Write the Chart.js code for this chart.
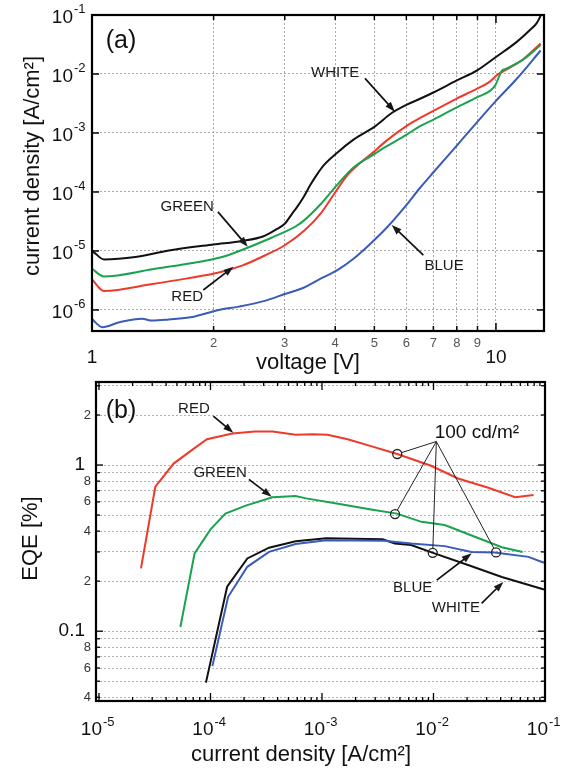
<!DOCTYPE html>
<html>
<head>
<meta charset="utf-8">
<script src="https://cdn.jsdelivr.net/npm/chart.js@4.4.1/dist/chart.umd.min.js"></script>
<style>
  html, body { margin: 0; padding: 0; background: #fff; }
  canvas { display: block; }
</style>
</head>
<body>
<canvas id="ivChart" width="567" height="376"></canvas>
<canvas id="eqeChart" width="567" height="392"></canvas>
<script>
// (a) current density vs voltage
const whiteV = [1.0, 1.02, 1.07, 1.28, 1.55, 2.0, 2.36, 2.66, 2.85, 3.0, 3.13, 3.22, 3.35, 3.47, 3.6, 3.74, 4.04, 4.44, 5.03, 5.53, 6.0, 6.49, 7.02, 7.98, 8.96, 10.0, 11.26, 12.12, 12.6, 12.9];
const whiteJ = [1.0e-5, 9.0e-6, 7.2e-6, 7.9e-6, 1.02e-5, 1.29e-5, 1.48e-5, 1.78e-5, 2.3e-5, 2.9e-5, 4.3e-5, 5.6e-5, 8.5e-5, 1.31e-4, 1.95e-4, 2.8e-4, 4.6e-4, 7.7e-4, 1.31e-3, 2.2e-3, 3.0e-3, 3.8e-3, 4.9e-3, 7.7e-3, 1.14e-2, 1.94e-2, 3.5e-2, 5.5e-2, 7.2e-2, 9.6e-2];
const greenV = [1.0, 1.07, 1.41, 1.71, 2.1, 2.4, 2.71, 3.0, 3.19, 3.35, 3.68, 4.04, 4.44, 4.89, 5.37, 6.0, 6.49, 7.02, 7.98, 8.96, 9.94, 10.33, 10.6, 11.7, 12.9];
const greenJ = [5.0e-6, 3.7e-6, 4.9e-6, 6.0e-6, 7.9e-6, 1.1e-5, 1.55e-5, 2.1e-5, 2.6e-5, 3.3e-5, 6.2e-5, 1.31e-4, 2.6e-4, 4.0e-4, 6.0e-4, 9.3e-4, 1.31e-3, 1.7e-3, 2.7e-3, 4.0e-3, 6.3e-3, 1.12e-2, 1.23e-2, 1.77e-2, 3.1e-2];
const redV = [1.0, 1.07, 1.41, 1.71, 2.06, 2.36, 2.69, 3.0, 3.35, 3.68, 3.96, 4.28, 4.61, 4.89, 5.37, 6.0, 6.49, 7.02, 7.98, 8.96, 9.6, 10.1, 10.6, 11.7, 12.9];
const redJ = [3.3e-6, 2.1e-6, 2.75e-6, 3.4e-6, 4.3e-6, 5.7e-6, 8.5e-6, 1.25e-5, 2.2e-5, 4.3e-5, 8.9e-5, 1.9e-4, 3.1e-4, 4.3e-4, 7.5e-4, 1.31e-3, 1.8e-3, 2.4e-3, 3.8e-3, 5.6e-3, 7.2e-3, 9.8e-3, 1.18e-2, 1.8e-2, 3.3e-2];
const blueV = [1.0, 1.06, 1.17, 1.33, 1.41, 1.55, 1.77, 2.06, 2.31, 2.69, 3.0, 3.35, 3.68, 4.04, 4.44, 4.89, 5.37, 6.0, 6.49, 7.02, 7.98, 8.96, 10.0, 11.26, 12.9];
const blueJ = [7.0e-7, 5.1e-7, 6.2e-7, 7.1e-7, 6.6e-7, 6.9e-7, 7.6e-7, 1.0e-6, 1.14e-6, 1.44e-6, 1.86e-6, 2.4e-6, 3.4e-6, 4.7e-6, 7.4e-6, 1.33e-5, 2.5e-5, 6.0e-5, 1.18e-4, 2.2e-4, 6.0e-4, 1.5e-3, 3.5e-3, 8.3e-3, 2.5e-2];

const xTicksA = [1, 2, 3, 4, 5, 6, 7, 8, 9, 10];
const yTicksA = [1e-6, 1e-5, 1e-4, 1e-3, 1e-2, 1e-1];

// (b) EQE vs current density
const redEqJ = [2.38e-5, 3.2e-5, 4.67e-5, 6.8e-5, 9.3e-5, 1.57e-4, 2.5e-4, 3.6e-4, 5.8e-4, 8.3e-4, 1.12e-3, 1.7e-3, 2.75e-3, 4.8e-3, 9.5e-3, 1.66e-2, 3.1e-2, 5.4e-2, 7.9e-2];
const redEqe = [0.239, 0.74, 1.02, 1.23, 1.43, 1.55, 1.59, 1.59, 1.52, 1.53, 1.52, 1.43, 1.30, 1.16, 0.99, 0.83, 0.73, 0.64, 0.66];
const greenEqJ = [5.37e-5, 7.2e-5, 1.0e-4, 1.36e-4, 2.07e-4, 3.6e-4, 5.8e-4, 7.2e-4, 1.48e-3, 2.75e-3, 4.7e-3, 7.8e-3, 1.26e-2, 2.35e-2, 4.1e-2, 6.3e-2];
const greenEqe = [0.106, 0.294, 0.41, 0.51, 0.57, 0.64, 0.65, 0.63, 0.58, 0.54, 0.51, 0.455, 0.435, 0.37, 0.32, 0.30];
const whiteEqJ = [9.1e-5, 1.41e-4, 2.14e-4, 3.35e-4, 5.8e-4, 1.09e-3, 3.5e-3, 4.5e-3, 6.3e-3, 1.02e-2, 2.04e-2, 4.1e-2, 9.8e-2];
const whiteEqe = [0.049, 0.185, 0.274, 0.318, 0.348, 0.362, 0.357, 0.337, 0.33, 0.294, 0.25, 0.212, 0.178];
const blueEqJ = [1.04e-4, 1.44e-4, 2.14e-4, 3.35e-4, 5.8e-4, 1.09e-3, 3.6e-3, 6.3e-3, 1.26e-2, 2.19e-2, 3.54e-2, 7.1e-2, 9.8e-2];
const blueEqe = [0.0616, 0.161, 0.244, 0.30, 0.335, 0.352, 0.35, 0.337, 0.325, 0.30, 0.298, 0.28, 0.258];
// 100 cd/m2 points (red, green, white, blue)
const markJ = [4.73e-3, 4.52e-3, 9.84e-3, 3.64e-2];
const markEqe = [1.165, 0.507, 0.296, 0.298];

const xDecadesB = [1e-5, 1e-4, 1e-3, 1e-2, 1e-1];
const yTicksB = [0.04, 0.05, 0.06, 0.07, 0.08, 0.09, 0.1, 0.2, 0.3, 0.4, 0.5, 0.6, 0.7, 0.8, 0.9, 1, 2, 3];
const yLabelsB = { 0.04: '4', 0.06: '6', 0.08: '8', 0.1: '0.1', 0.2: '2', 0.4: '4', 0.6: '6', 0.8: '8', 1: '1', 2: '2' };

const FONT = '"Liberation Sans", Arial, sans-serif';
const RED = '#ee3a2a', GREEN = '#1aa34e', BLUE = '#3a5cb8', BLACK = '#111';

// annotation labels with arrows, in data units
const notesA = [
    { text: 'WHITE', tx: 4.0, ty: 1.04e-2, x1: 4.74, y1: 8.45e-3, x2: 5.62, y2: 2.3e-3 },
    { text: 'GREEN', tx: 1.72, ty: 5.6e-5, x1: 2.05, y1: 4.6e-5, x2: 2.43, y2: 1.18e-5 },
    { text: 'RED', tx: 1.72, ty: 1.66e-6, x1: 1.886, y1: 2.18e-6, x2: 2.24, y2: 5.4e-6 },
    { text: 'BLUE', tx: 7.44, ty: 5.6e-6, x1: 6.61, y1: 8.5e-6, x2: 5.52, y2: 2.76e-5 }
];
const notesB = [
    { text: 'RED', tx: 7.1e-5, ty: 2.18, x1: 1.06e-4, y1: 1.97, x2: 1.6e-4, y2: 1.565 },
    { text: 'GREEN', tx: 1.22e-4, ty: 0.895, x1: 2.21e-4, y1: 0.82, x2: 3.54e-4, y2: 0.644 },
    { text: 'BLUE', tx: 6.5e-3, ty: 0.1816, x1: 1.07e-2, y1: 0.203, x2: 2.2e-2, y2: 0.294 },
    { text: 'WHITE', tx: 1.59e-2, ty: 0.1376, x1: 2.7e-2, y1: 0.147, x2: 4.23e-2, y2: 0.198 }
];
const lumNote = { text: '100 cd/m\u00b2', tx: 2.45e-2, ty: 1.56, ax: 1.06e-2, ay: 1.385 };

function pts(xs, ys) {
    return xs.map((v, i) => ({ x: v, y: ys[i] }));
}

function curve(label, xs, ys, color, smooth) {
    return {
        label: label,
        data: pts(xs, ys),
        borderColor: color,
        borderWidth: 2,
        pointRadius: 0,
        tension: 0,
        cubicInterpolationMode: smooth ? 'monotone' : 'default',
        fill: false,
        order: 1
    };
}

function text(ctx, str, x, y, size, align, color) {
    ctx.font = size + 'px ' + FONT;
    ctx.textAlign = align || 'center';
    ctx.textBaseline = 'middle';
    ctx.fillStyle = color || '#111';
    ctx.fillText(str, x, y);
}

function line(ctx, x1, y1, x2, y2) {
    ctx.beginPath();
    ctx.moveTo(x1, y1);
    ctx.lineTo(x2, y2);
    ctx.stroke();
}

function arrow(ctx, x1, y1, x2, y2) {
    const ang = Math.atan2(y2 - y1, x2 - x1);
    const L = 10, W = 3.5;
    const c = Math.cos(ang), s = Math.sin(ang);
    ctx.lineWidth = 1.7;
    line(ctx, x1, y1, x2 - L * 0.8 * c, y2 - L * 0.8 * s);
    ctx.beginPath();
    ctx.moveTo(x2, y2);
    ctx.lineTo(x2 - L * c + W * s, y2 - L * s - W * c);
    ctx.lineTo(x2 - L * c - W * s, y2 - L * s + W * c);
    ctx.closePath();
    ctx.fill();
}

// "10" with a raised exponent, "10" ends at x
function power(ctx, exp, x, y, size, expSize, dy) {
    text(ctx, '10', x, y, size, 'right');
    text(ctx, String(exp), x + 1, y - dy, expSize, 'left');
}

function drawNotes(ctx, notes, sx, sy) {
    ctx.strokeStyle = '#111';
    ctx.fillStyle = '#111';
    notes.forEach(n => {
        arrow(ctx, sx.getPixelForValue(n.x1), sy.getPixelForValue(n.y1),
            sx.getPixelForValue(n.x2), sy.getPixelForValue(n.y2));
        text(ctx, n.text, sx.getPixelForValue(n.tx), sy.getPixelForValue(n.ty), 15, 'center', '#1a1a1a');
    });
}

function logScale(min, max, ticks, gridColor) {
    return {
        type: 'logarithmic',
        min: min,
        max: max,
        afterBuildTicks: s => { s.ticks = ticks.map(v => ({ value: v })); },
        afterFit: s => { if (s.isHorizontal()) s.height = 0; else s.width = 0; },
        ticks: { display: false },
        grid: { display: !!gridColor, color: gridColor || 'transparent', lineWidth: 1, drawTicks: false },
        border: { display: false, dash: [2, 2] }
    };
}

const decoA = {
    id: 'decoA',
    afterDraw(chart) {
        const { ctx, chartArea: a, scales: { x, y } } = chart;
        ctx.save();
        ctx.strokeStyle = '#000';
        ctx.lineWidth = 1.5;
        xTicksA.forEach(v => {
            if (v === 1) return;
            const px = x.getPixelForValue(v);
            const len = v === 10 ? 8 : 5;
            line(ctx, px, a.bottom, px, a.bottom - len);
            line(ctx, px, a.top, px, a.top + len);
        });
        yTicksA.forEach(v => {
            const py = y.getPixelForValue(v);
            line(ctx, a.left, py, a.left + 7, py);
            line(ctx, a.right, py, a.right - 7, py);
        });
        ctx.lineWidth = 2.2;
        ctx.strokeRect(a.left, a.top, a.right - a.left, a.bottom - a.top);

        // tick labels
        xTicksA.forEach(v => {
            const px = x.getPixelForValue(v);
            if (v === 1 || v === 10) text(ctx, String(v), px, a.bottom + 27, 19, 'center', '#111');
            else text(ctx, String(v), px, a.bottom + 12, 13, 'center', '#555');
        });
        yTicksA.forEach(v => {
            const py = y.getPixelForValue(v);
            power(ctx, Math.round(Math.log10(v)), a.left - 19, py + 3, 19, 13, 9);
        });

        // axis titles
        text(ctx, 'voltage [V]', a.left + 216, a.bottom + 32, 22, 'center', '#111');
        ctx.save();
        ctx.translate(33, (a.top + a.bottom) / 2 - 7);
        ctx.rotate(-Math.PI / 2);
        text(ctx, 'current density [A/cm\u00b2]', 0, 0, 22, 'center', '#111');
        ctx.restore();

        text(ctx, '(a)', a.left + 29, a.top + 26, 25, 'center', '#111');
        drawNotes(ctx, notesA, x, y);
        ctx.restore();
    }
};

const decoB = {
    id: 'decoB',
    afterDraw(chart) {
        const { ctx, chartArea: a, scales: { x, y } } = chart;
        ctx.save();
        ctx.strokeStyle = '#000';
        ctx.lineWidth = 1.3;
        xDecadesB.forEach((d, i) => {
            for (let m = 1; m <= 9; m++) {
                const v = d * m;
                if (v < x.min || v > x.max || (m > 1 && i === xDecadesB.length - 1)) continue;
                const px = x.getPixelForValue(v);
                const len = m === 1 ? 8 : 4;
                line(ctx, px, a.bottom, px, a.bottom - len);
                line(ctx, px, a.top, px, a.top + len);
            }
        });
        yTicksB.forEach(v => {
            const py = y.getPixelForValue(v);
            const len = (v === 0.1 || v === 1) ? 7 : 4;
            line(ctx, a.left, py, a.left + len, py);
            line(ctx, a.right, py, a.right - len, py);
        });
        ctx.lineWidth = 2.2;
        ctx.strokeRect(a.left, a.top, a.right - a.left, a.bottom - a.top);

        // tick labels
        xDecadesB.forEach(d => {
            const px = x.getPixelForValue(d);
            power(ctx, Math.round(Math.log10(d)), px + 3, a.bottom + 29, 19, 13, 8);
        });
        yTicksB.forEach(v => {
            const lab = yLabelsB[v];
            if (!lab) return;
            const py = y.getPixelForValue(v);
            if (v === 0.1 || v === 1) text(ctx, lab, a.left - 11, py, 19, 'right', '#111');
            else text(ctx, lab, a.left - 5, py, 13, 'right', '#333');
        });

        // axis titles
        text(ctx, 'current density [A/cm\u00b2]', a.left + 205, a.bottom + 54, 22, 'center', '#111');
        ctx.save();
        ctx.translate(31, (a.top + a.bottom) / 2 - 3);
        ctx.rotate(-Math.PI / 2);
        text(ctx, 'EQE [%]', 0, 0, 22, 'center', '#111');
        ctx.restore();

        text(ctx, '(b)', a.left + 25, a.top + 29, 25, 'center', '#111');
        drawNotes(ctx, notesB, x, y);

        // 100 cd/m2 leader lines to the marked points
        const ax = x.getPixelForValue(lumNote.ax), ay = y.getPixelForValue(lumNote.ay);
        ctx.strokeStyle = '#222';
        ctx.lineWidth = 1;
        markJ.forEach((j, i) => {
            const px = x.getPixelForValue(j), py = y.getPixelForValue(markEqe[i]);
            const d = Math.hypot(px - ax, py - ay);
            line(ctx, ax, ay, px - (px - ax) * 4.5 / d, py - (py - ay) * 4.5 / d);
        });
        text(ctx, lumNote.text, x.getPixelForValue(lumNote.tx), y.getPixelForValue(lumNote.ty), 19, 'center', '#111');
        ctx.restore();
    }
};

new Chart(document.getElementById('ivChart'), {
    type: 'line',
    data: {
        datasets: [
            curve('WHITE', whiteV, whiteJ, BLACK, true),
            curve('GREEN', greenV, greenJ, GREEN, true),
            curve('RED', redV, redJ, RED, true),
            curve('BLUE', blueV, blueJ, BLUE, true)
        ]
    },
    options: {
        responsive: false,
        animation: false,
        devicePixelRatio: 1,
        layout: { padding: { left: 92, top: 15, right: 23, bottom: 45 } },
        plugins: { legend: { display: false }, tooltip: { enabled: false } },
        scales: {
            x: logScale(1, 13.15, xTicksA, '#a8a8a8'),
            y: logScale(4.4e-7, 0.1, yTicksA, '#a8a8a8')
        }
    },
    plugins: [decoA]
});

new Chart(document.getElementById('eqeChart'), {
    type: 'line',
    data: {
        datasets: [
            {
                label: '100 cd/m2',
                data: pts(markJ, markEqe),
                showLine: false,
                pointStyle: 'circle',
                pointRadius: 4.5,
                pointBorderWidth: 1.3,
                pointBorderColor: '#222',
                pointBackgroundColor: 'rgba(255,255,255,0)',
                order: 0
            },
            curve('RED', redEqJ, redEqe, RED, false),
            curve('GREEN', greenEqJ, greenEqe, GREEN, false),
            curve('BLUE', blueEqJ, blueEqe, BLUE, false),
            curve('WHITE', whiteEqJ, whiteEqe, BLACK, false)
        ]
    },
    options: {
        responsive: false,
        animation: false,
        devicePixelRatio: 1,
        layout: { padding: { left: 96, top: 6, right: 22, bottom: 67 } },
        plugins: { legend: { display: false }, tooltip: { enabled: false } },
        scales: {
            x: logScale(9.4e-6, 0.1, xDecadesB, null),
            y: logScale(0.038, 3.16, yTicksB, '#b0b0b0')
        }
    },
    plugins: [decoB]
});
</script>
</body>
</html>
